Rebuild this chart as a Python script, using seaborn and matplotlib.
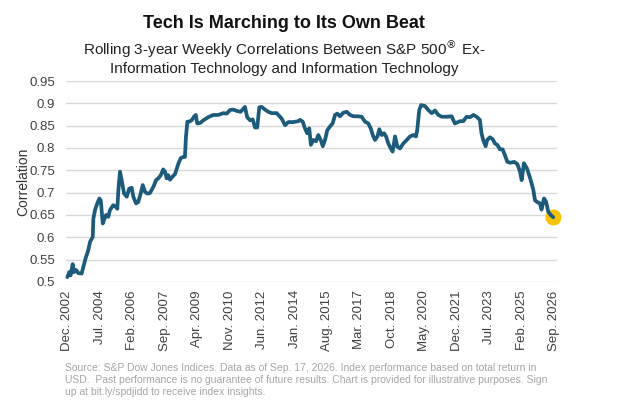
import matplotlib
matplotlib.use("Agg")
import matplotlib.pyplot as plt
import seaborn as sns
import pandas as pd
from matplotlib.ticker import FuncFormatter

# decimal-year positions
years = [
    2002.91, 2003.00, 2003.07, 2003.17, 2003.23, 2003.33, 2003.44, 2003.61, 2003.69, 2003.82,
    2003.93, 2004.02, 2004.10, 2004.15, 2004.18, 2004.26, 2004.34, 2004.47, 2004.54, 2004.64,
    2004.70, 2004.80, 2004.91, 2004.99, 2005.15, 2005.28, 2005.35, 2005.40, 2005.48, 2005.56,
    2005.68, 2005.81, 2005.93, 2006.05, 2006.13, 2006.26, 2006.37, 2006.49, 2006.59, 2006.70,
    2006.81, 2006.94, 2007.11, 2007.24, 2007.35, 2007.47, 2007.59, 2007.68, 2007.76, 2007.84,
    2007.92, 2008.05, 2008.17, 2008.33, 2008.44, 2008.57, 2008.65, 2008.70, 2008.77, 2008.86,
    2008.98, 2009.09, 2009.18, 2009.25, 2009.39, 2009.55, 2009.79, 2010.03, 2010.28, 2010.52,
    2010.69, 2010.85, 2011.01, 2011.18, 2011.37, 2011.58, 2011.69, 2011.83, 2011.96, 2012.07,
    2012.18, 2012.28, 2012.40, 2012.56, 2012.72, 2012.89, 2013.13, 2013.37, 2013.54, 2013.70,
    2013.94, 2014.18, 2014.27, 2014.40, 2014.51, 2014.62, 2014.72, 2014.80, 2014.92, 2015.05,
    2015.16, 2015.28, 2015.38, 2015.49, 2015.60, 2015.73, 2015.86, 2015.98, 2016.09, 2016.22,
    2016.38, 2016.55, 2016.71, 2016.87, 2017.07, 2017.28, 2017.44, 2017.60, 2017.72, 2017.82,
    2017.93, 2018.05, 2018.14, 2018.26, 2018.37, 2018.47, 2018.58, 2018.70, 2018.79, 2018.91,
    2019.02, 2019.15, 2019.31, 2019.48, 2019.64, 2019.80, 2019.93, 2019.99, 2020.09, 2020.18,
    2020.37, 2020.53, 2020.70, 2020.86, 2021.02, 2021.19, 2021.43, 2021.67, 2021.83, 2022.08,
    2022.24, 2022.40, 2022.57, 2022.73, 2022.89, 2023.05, 2023.13, 2023.21, 2023.33, 2023.41,
    2023.54, 2023.67, 2023.79, 2023.90, 2024.03, 2024.16, 2024.27, 2024.39, 2024.55, 2024.72,
    2024.88, 2025.01, 2025.09, 2025.20, 2025.34, 2025.46, 2025.58, 2025.66, 2025.74, 2025.85,
    2025.98, 2026.06, 2026.18, 2026.28, 2026.39, 2026.51, 2026.63,
]
correlation = [
    0.511, 0.522, 0.515, 0.540, 0.522, 0.527, 0.520, 0.519, 0.534, 0.556,
    0.571, 0.590, 0.597, 0.601, 0.642, 0.661, 0.672, 0.687, 0.683, 0.631,
    0.639, 0.650, 0.646, 0.661, 0.672, 0.668, 0.664, 0.706, 0.747, 0.728,
    0.698, 0.691, 0.709, 0.711, 0.691, 0.676, 0.679, 0.698, 0.717, 0.702,
    0.698, 0.699, 0.713, 0.728, 0.732, 0.739, 0.752, 0.747, 0.732, 0.739,
    0.729, 0.736, 0.742, 0.765, 0.777, 0.780, 0.780, 0.825, 0.859, 0.859,
    0.862, 0.870, 0.874, 0.855, 0.856, 0.862, 0.869, 0.874, 0.874, 0.878,
    0.877, 0.885, 0.886, 0.883, 0.881, 0.892, 0.869, 0.862, 0.864, 0.846,
    0.846, 0.891, 0.892, 0.886, 0.881, 0.878, 0.878, 0.866, 0.851, 0.858,
    0.858, 0.860, 0.863, 0.859, 0.844, 0.833, 0.844, 0.807, 0.818, 0.815,
    0.829, 0.818, 0.804, 0.818, 0.840, 0.848, 0.855, 0.874, 0.877, 0.871,
    0.879, 0.881, 0.874, 0.871, 0.871, 0.870, 0.859, 0.855, 0.844, 0.829,
    0.818, 0.826, 0.842, 0.829, 0.833, 0.826, 0.810, 0.799, 0.792, 0.826,
    0.803, 0.799, 0.810, 0.818, 0.826, 0.829, 0.826, 0.840, 0.885, 0.896,
    0.894, 0.885, 0.878, 0.884, 0.874, 0.870, 0.870, 0.871, 0.855, 0.860,
    0.860, 0.870, 0.869, 0.874, 0.870, 0.863, 0.833, 0.818, 0.804, 0.818,
    0.824, 0.820, 0.810, 0.807, 0.797, 0.797, 0.784, 0.769, 0.767, 0.769,
    0.764, 0.747, 0.728, 0.766, 0.755, 0.739, 0.720, 0.706, 0.683, 0.679,
    0.676, 0.662, 0.687, 0.680, 0.657, 0.650, 0.645,
]

tick_labels = ["Dec. 2002", "Jul. 2004", "Feb. 2006", "Sep. 2007", "Apr. 2009",
               "Nov. 2010", "Jun. 2012", "Jan. 2014", "Aug. 2015", "Mar. 2017",
               "Oct. 2018", "May. 2020", "Dec. 2021", "Jul. 2023", "Feb. 2025",
               "Sep. 2026"]
tick_months = [(2002, 12), (2004, 7), (2006, 2), (2007, 9), (2009, 4), (2010, 11),
               (2012, 6), (2014, 1), (2015, 8), (2017, 3), (2018, 10), (2020, 5),
               (2021, 12), (2023, 7), (2025, 2), (2026, 9)]
tick_pos = [y + (m - 1) / 12 for y, m in tick_months]

y_ticks = [0.5, 0.55, 0.6, 0.65, 0.7, 0.75, 0.8, 0.85, 0.9, 0.95]

title = "Tech Is Marching to Its Own Beat"
subtitle = ("Rolling 3-year Weekly Correlations Between S&P 500$^{\u00ae}$ Ex-\n"
            "Information Technology and Information Technology")
footer = ("Source: S&P Dow Jones Indices. Data as of Sep. 17, 2026. Index performance based on total return in\n"
          "USD.  Past performance is no guarantee of future results. Chart is provided for illustrative purposes. Sign\n"
          "up at bit.ly/spdjidd to receive index insights.")

df = pd.DataFrame({"year": years, "corr": correlation})

sns.set_style("white")
plt.rcParams["font.family"] = ["Liberation Sans", "DejaVu Sans"]

fig = plt.figure(figsize=(6.29, 4.08), dpi=100)
ax = fig.add_axes([66 / 629, 1 - 282 / 408, (557 - 66) / 629, (282 - 81) / 408])

line_color = "#1d5b7b"
sns.lineplot(data=df, x="year", y="corr", ax=ax, color=line_color, linewidth=2.7,
             zorder=3)
ax.plot([years[-1]], [correlation[-1]], "o", color="#f7c200", markersize=11.5,
        zorder=2, markeredgewidth=0, clip_on=False)
for ln in ax.lines:
    ln.set_clip_on(False)

ax.set_xlim(2002.844, 2026.815)
ax.set_ylim(0.5, 0.95)
ax.set_yticks(y_ticks)
ax.yaxis.set_major_formatter(FuncFormatter(lambda v, p: f"{v:g}"))
ax.set_xticks(tick_pos)
ax.set_xticklabels(tick_labels, rotation=90)
ax.tick_params(axis="both", length=0, labelsize=9.5, colors="#404040")
ax.tick_params(axis="x", pad=6)
ax.tick_params(axis="y", pad=8)
ax.grid(axis="y", color="#d9d9d9", linewidth=1.0)
ax.grid(axis="x", visible=False)
for s in ax.spines.values():
    s.set_visible(False)
ax.set_xlabel("")
ax.set_ylabel("Correlation", fontsize=10, color="#333333", labelpad=-1)

fig.text(0.452, 1 - 23 / 408, title, ha="center", va="center", fontsize=13,
         fontweight="bold", color="#111111")
fig.text(0.452, 1 - 57 / 408, subtitle, ha="center", va="center", fontsize=11,
         color="#222222", linespacing=1.2)
fig.text(65 / 629, 1 - 380 / 408, footer, ha="left", va="center", fontsize=7.5,
         color="#a6a6a6", linespacing=1.3)

fig.savefig("out.png", dpi=100)
